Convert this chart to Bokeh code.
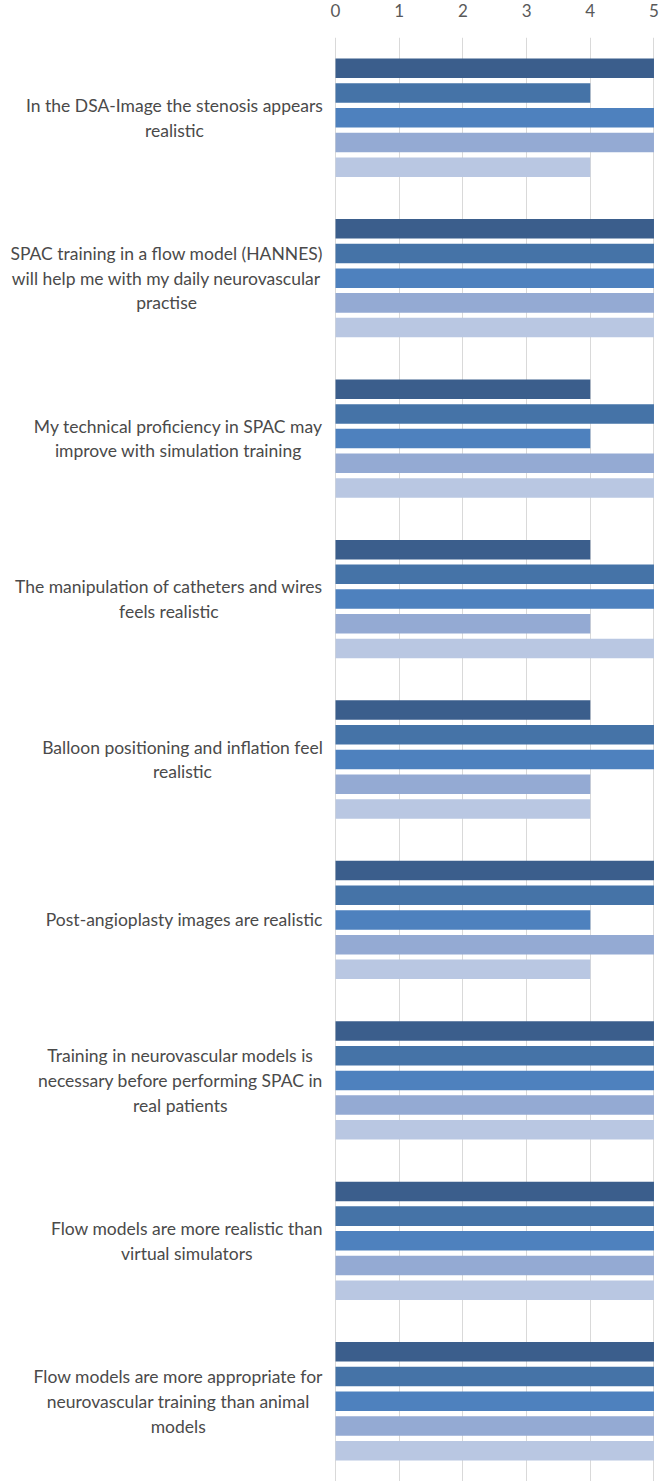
from bokeh.plotting import figure
from bokeh.models import ColumnDataSource, FactorRange, Range1d, FixedTicker
from bokeh.transform import dodge
from bokeh.core.properties import value
from bokeh.embed import file_html
from bokeh.resources import INLINE

categories = [
    "In the DSA-Image the stenosis appears realistic",
    "SPAC training in a flow model (HANNES) will help me with my daily neurovascular practise",
    "My technical proficiency in SPAC may improve with simulation training",
    "The manipulation of catheters and wires feels realistic",
    "Balloon positioning and inflation feel realistic",
    "Post-angioplasty images are realistic",
    "Training in neurovascular models is necessary before performing SPAC in real patients",
    "Flow models are more realistic than virtual simulators",
    "Flow models are more appropriate for neurovascular training than animal models",
]
label_lines = [
    "In the DSA-Image the stenosis appears\nrealistic",
    "SPAC training in a flow model (HANNES)\nwill help me with my daily neurovascular\npractise",
    "My technical proficiency in SPAC may\nimprove with simulation training",
    "The manipulation of catheters and wires\nfeels realistic",
    "Balloon positioning and inflation feel\nrealistic",
    "Post-angioplasty images are realistic",
    "Training in neurovascular models is\nnecessary before performing SPAC in\nreal patients",
    "Flow models are more realistic than\nvirtual simulators",
    "Flow models are more appropriate for\nneurovascular training than animal\nmodels",
]
series1 = [5, 5, 4, 4, 4, 5, 5, 5, 5]
series2 = [4, 5, 5, 5, 5, 5, 5, 5, 5]
series3 = [5, 5, 4, 5, 5, 4, 5, 5, 5]
series4 = [5, 5, 5, 4, 4, 5, 5, 5, 5]
series5 = [4, 5, 5, 5, 4, 4, 5, 5, 5]
x_ticks = [0, 1, 2, 3, 4, 5]

series_list = [series1, series2, series3, series4, series5]
colors = ["#3B5E8C", "#4573A7", "#4E81BE", "#94AAD3", "#B9C7E2"]
offsets = [0.308, 0.154, 0.0, -0.154, -0.308]

src = ColumnDataSource(dict(
    cat=categories, label=label_lines,
    s1=series1, s2=series2, s3=series3, s4=series4, s5=series5,
    lx=[-0.2] * len(categories),
))

W, H = 661, 1481
p = figure(width=W, height=H,
           y_range=FactorRange(factors=categories[::-1]),
           x_range=Range1d(-5.26, 5.118),
           output_backend="svg", toolbar_location=None,
           x_axis_location="above", y_axis_location=None,
           min_border_left=0, min_border_right=0,
           min_border_top=37, min_border_bottom=0)
p.outline_line_color = None
p.background_fill_color = "white"
p.border_fill_color = "white"

p.ygrid.grid_line_color = None
p.xgrid.ticker = FixedTicker(ticks=x_ticks)
p.xgrid.grid_line_color = "#D9D9D9"
p.xgrid.grid_line_width = 1

ax = p.xaxis[0]
ax.ticker = FixedTicker(ticks=x_ticks)
ax.axis_line_color = None
ax.major_tick_line_color = None
ax.minor_tick_line_color = None
ax.major_tick_out = 0
ax.major_tick_in = 0
ax.major_label_standoff = 21
ax.major_label_text_font = "Lato"
ax.major_label_text_font_size = "17px"
ax.major_label_text_color = "#595959"

for i, key in enumerate(["s1", "s2", "s3", "s4", "s5"]):
    p.hbar(y=dodge("cat", offsets[i], range=p.y_range), left=0, right=key,
           height=0.1216, source=src, fill_color=colors[i], line_color=None)

p.text(x="lx", y="cat", text="label", source=src,
       anchor="center_right", text_align="center", text_baseline="middle",
       text_font=value("Lato"), text_font_size="17.5px",
       text_color="#4A4A4A", text_line_height=1.18)

open("out.html", "w").write(file_html(p, INLINE))
